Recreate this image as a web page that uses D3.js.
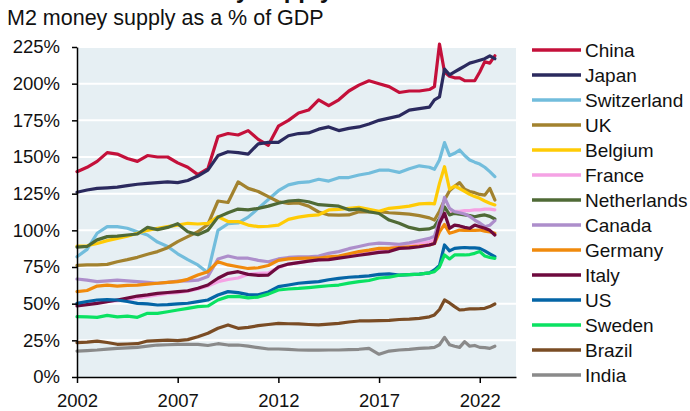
<!DOCTYPE html>
<html>
<head>
<meta charset="utf-8">
<script src="https://cdn.jsdelivr.net/npm/d3@7"></script>
<style>
  body { margin: 0; background: #fff; }
  text { font-family: "Liberation Sans", Arial, sans-serif; }
</style>
</head>
<body>
<svg id="chart" width="690" height="411"></svg>
<script>
// data
const dates = [2002, 2002.5, 2003, 2003.5, 2004, 2004.5, 2005, 2005.5, 2006, 2006.5,
  2007, 2007.5, 2008, 2008.5, 2009, 2009.5, 2010, 2010.5, 2011, 2011.5,
  2012, 2012.5, 2013, 2013.5, 2014, 2014.5, 2015, 2015.5, 2016, 2016.5,
  2017, 2017.5, 2018, 2018.5, 2019, 2019.5, 2019.75, 2020, 2020.25, 2020.5,
  2020.75, 2021, 2021.25, 2021.5, 2021.75, 2022, 2022.25, 2022.5, 2022.75];

const countries = ["China", "Japan", "Switzerland", "UK", "Belgium", "France", "Netherlands",
  "Canada", "Germany", "Italy", "US", "Sweden", "Brazil", "India"];

const colors = ["#c4103a", "#2b2a5e", "#72bddc", "#a2822e", "#ffcb05", "#f5a2e4", "#4f6a36",
  "#ad8ecb", "#f08a0c", "#6e0a3e", "#0465a6", "#0ae262", "#7a4c24", "#8a8a8a"];

const china = [140, 143, 147, 153, 152, 149, 147, 151, 150, 150,
  146, 143, 138, 142, 164, 166, 165, 168, 162, 158,
  171, 175, 180, 182, 189, 185, 189, 195, 199, 202,
  200, 198, 194, 195, 195, 196, 198, 227, 208, 205,
  204, 204, 202, 202, 202, 208, 215, 214, 219];
const japan = [126, 127.5, 128.6, 129, 129.5, 130.5, 131.4, 132, 132.5, 133,
  132.5, 134, 137, 141, 151, 153.6, 153, 152, 159, 160,
  160, 164.5, 166, 166.4, 169, 170.5, 168, 169.5, 170.5, 172.5,
  175, 176.5, 178, 182, 183, 184, 189, 191, 210, 206,
  208, 210, 212, 214, 215, 216, 217, 219, 217];
const switzerland = [82, 87, 98, 102.5, 102.5, 101.4, 99, 96.8, 92, 89,
  84, 80, 76.4, 71, 100, 104.5, 105, 109, 115, 121,
  127, 131, 132.5, 133, 134.8, 133.6, 135.9, 136, 137.7, 138.9,
  141, 141, 139.5, 142, 144, 143, 141.6, 148, 159.8, 151,
  152.5, 154.8, 151, 148, 146.5, 145.2, 143, 140, 136.6];
const uk = [76.1, 76.4, 76.4, 76.8, 78.6, 80, 81.6, 83.7, 85.5, 88.2,
  92.3, 95.7, 99, 104, 120, 119, 133, 128.6, 126.5, 123,
  119.5, 118.4, 118.7, 116.5, 112.5, 110.5, 110.4, 110.5, 112.7, 112.5,
  112.7, 112, 111.6, 111, 110, 108.5, 107, 113, 120.7, 127,
  130, 132.5, 128, 126.5, 125.7, 124.5, 124, 128.6, 120.7];
const belgium = [89.3, 89.5, 91, 93, 94.5, 96, 98, 100, 101.4, 102.5,
  103.6, 104.8, 104.3, 104.8, 109.3, 106, 106, 103.6, 102.5, 102.8,
  103.6, 107.5, 109, 110, 110.5, 113.9, 114.3, 115, 115.7, 114.3,
  113, 115, 115.7, 116.5, 118, 118.4, 118, 132, 143.4, 128,
  130.2, 128.5, 126.5, 124.5, 123, 121.8, 120, 118.5, 117.3];
const france = [50, 50.5, 51, 51.5, 52, 52.5, 54, 55, 56, 57,
  57.5, 58.5, 60, 62, 65, 66.5, 67.5, 70, 70.7, 71,
  74.5, 77, 78, 79, 79.8, 81, 82, 83, 84, 85,
  86, 87.5, 90, 91, 91, 92, 93.4, 104, 112, 112,
  113, 113, 113.5, 113.5, 114, 114, 114.5, 114.5, 114];
const netherlands = [88.5, 89, 93.5, 95.7, 96, 96.8, 97.5, 102, 100.5, 102,
  104.5, 99, 97, 100, 109, 112, 114.5, 113.9, 115, 116.5,
  118.5, 120, 120.5, 119.5, 117.5, 117, 116.5, 114, 114.5, 112.7,
  111.5, 107, 104.8, 102, 100.5, 101, 102.5, 108, 116, 110.5,
  111.6, 111, 110.5, 110, 109.3, 110, 110.5, 109.5, 107.7];
const canada = [66.8, 66, 65, 65.5, 66, 65.5, 65, 64.5, 63.9, 64.5,
  65.4, 65.5, 66, 68.5, 80.5, 82.5, 81, 81, 79.5, 78.6,
  80.5, 81.5, 82, 82, 82.5, 84.3, 85.5, 87.5, 89, 90.5,
  91.3, 91, 90.5, 91.5, 93, 94.5, 96, 107, 122.5, 115,
  112.7, 112, 111.1, 109.5, 107, 105, 102.5, 103.5, 106.6];
const germany = [58.2, 59, 62, 62.7, 62, 62.5, 62.7, 63.3, 63.9, 64.5,
  65, 66.6, 69.5, 71.8, 78.6, 76.4, 75.2, 74, 74.5, 76,
  79.5, 80.5, 80.9, 81, 81, 82, 82.5, 84, 85.5, 86.5,
  87.7, 87.7, 88.3, 88.8, 89.3, 90, 91, 99, 104, 98,
  99, 100.2, 100, 100, 100, 100.2, 99.5, 99, 98];
const italy = [48.4, 49.3, 50.2, 51.3, 52.5, 53.8, 55.2, 56, 57, 57.6,
  58.2, 58.8, 60.5, 62.7, 67.3, 70.7, 71.8, 70, 69.3, 69.5,
  75, 77, 78, 79, 79.8, 80, 81, 82, 83, 84,
  85, 85.5, 87.7, 88, 88.8, 90, 91, 104.8, 111.6, 101.4,
  103.6, 103, 102, 101.4, 103.6, 102.5, 101.4, 100, 96.8];
const us = [50.2, 51.5, 52.5, 52.7, 52.5, 51.5, 50.2, 49.8, 49.1, 49.3,
  49.8, 50.3, 51.4, 52.5, 55.9, 58.2, 57.5, 56.2, 56, 58,
  61.6, 62.7, 63.9, 64.5, 65, 66.3, 67.3, 68, 68.4, 69,
  70, 70.3, 69.5, 69.8, 70.2, 71, 73, 76, 90, 86,
  87.7, 88, 88.3, 88, 88, 87.7, 86, 84, 82];
const sweden = [41.1, 41, 40.7, 42, 41, 41.5, 40.7, 43.4, 43.4, 44.5,
  45.7, 46.8, 48, 48.4, 52.5, 54.8, 55, 54, 54.5, 56.5,
  59.3, 60, 60.4, 61, 61.6, 62.2, 62.7, 64, 65, 65.8,
  67.5, 68, 69.5, 69.8, 70.2, 71, 71.8, 75, 83.2, 80.5,
  83.2, 83.2, 83.2, 83.5, 84.3, 85.5, 82.5, 81.5, 80.9];
const brazil = [23.4, 23.8, 24.5, 23.5, 22.3, 22.5, 22.7, 24.5, 24.8, 25.2,
  24.8, 25.5, 27.5, 29.8, 33.2, 35.5, 33.2, 33.8, 35, 35.8,
  36.6, 36.3, 36.2, 35.8, 35.5, 36, 36.6, 37.5, 38.2, 38.3,
  38.4, 38.6, 39.2, 39.5, 40, 41, 42.3, 46, 52.5, 50.5,
  48, 45.7, 46, 46.4, 46.5, 46.6, 46.8, 48, 49.8];
const india = [17.7, 18, 18.4, 19, 19.5, 19.8, 20.2, 21, 21.8, 22,
  22.3, 22.3, 22.3, 21.5, 22.7, 21.8, 21.8, 21, 20, 19.1,
  19.1, 18.8, 18.4, 18.3, 18.3, 18.4, 18.4, 18.7, 18.9, 19.5,
  15.5, 17.7, 18.4, 18.8, 19.5, 19.8, 20.2, 22, 27, 22,
  21, 20.2, 24.1, 21, 21.5, 20.2, 20, 19.5, 21];

const seriesValues = [china, japan, switzerland, uk, belgium, france, netherlands,
  canada, germany, italy, us, sweden, brazil, india];

const yTicks = [0, 25, 50, 75, 100, 125, 150, 175, 200, 225];
const xTicks = [2002, 2007, 2012, 2017, 2022];

const svg = d3.select("#chart");
const plotLeft = 77, plotRight = 516, plotTop = 47, plotBottom = 377;

const x = d3.scaleLinear().domain([2002, 2023.8]).range([plotLeft, plotRight]);
const y = d3.scaleLinear().domain([0, 225]).range([plotBottom, plotTop]);

// titles (the main title is cropped off the top in the original)
svg.append("text")
  .attr("x", 333).attr("y", -2)
  .attr("text-anchor", "end")
  .style("font-size", "24px").style("font-weight", "bold").attr("fill", "#111")
  .text("Broad money supply");

svg.append("text")
  .attr("x", 7).attr("y", 25)
  .style("font-size", "21.5px").attr("fill", "#111")
  .text("M2 money supply as a % of GDP");

// plot background
svg.append("rect")
  .attr("x", plotLeft).attr("y", plotTop)
  .attr("width", plotRight - plotLeft).attr("height", plotBottom - plotTop)
  .attr("fill", "#e6eff3");

// gridlines
svg.append("g")
  .selectAll("line")
  .data(yTicks.filter(d => d > 0))
  .enter()
  .append("line")
  .attr("x1", plotLeft).attr("x2", plotRight)
  .attr("y1", d => y(d)).attr("y2", d => y(d))
  .attr("stroke", "#fff").attr("stroke-width", 2);

// lines
const line = d3.line()
  .x((d, i) => x(dates[i]))
  .y(d => y(d));

svg.append("g")
  .selectAll("path")
  .data(seriesValues)
  .enter()
  .append("path")
  .attr("d", d => line(d))
  .attr("fill", "none")
  .attr("stroke", (d, i) => colors[i])
  .attr("stroke-width", 3.2)
  .attr("stroke-linejoin", "round")
  .attr("stroke-linecap", "round");

// axes
const yAxis = svg.append("g")
  .attr("transform", "translate(" + plotLeft + ",0)")
  .call(d3.axisLeft(y).tickValues(yTicks).tickFormat(d => d + "%").tickSize(5).tickPadding(12).tickSizeOuter(0));

const xAxis = svg.append("g")
  .attr("transform", "translate(0," + plotBottom + ")")
  .call(d3.axisBottom(x).tickValues(xTicks).tickFormat(d3.format("d")).tickSize(6).tickPadding(11).tickSizeOuter(0));

[yAxis, xAxis].forEach(a => {
  a.select(".domain").attr("stroke", "#000").attr("stroke-width", 1.5);
  a.selectAll(".tick line").attr("stroke", "#000").attr("stroke-width", 1.5);
  a.selectAll(".tick text")
    .style("font-size", "18.5px")
    .style("font-family", "'Liberation Sans', Arial, sans-serif")
    .attr("fill", "#111");
});

// legend
const legend = svg.append("g");
const rows = legend.selectAll("g")
  .data(countries)
  .enter()
  .append("g")
  .attr("transform", (d, i) => "translate(0," + (50 + i * 25) + ")");

rows.append("line")
  .attr("x1", 532).attr("x2", 581)
  .attr("stroke", (d, i) => colors[i])
  .attr("stroke-width", 3.5);

rows.append("text")
  .attr("x", 585).attr("dy", "0.35em")
  .style("font-size", "19px").attr("fill", "#111")
  .text(d => d);
</script>
</body>
</html>
